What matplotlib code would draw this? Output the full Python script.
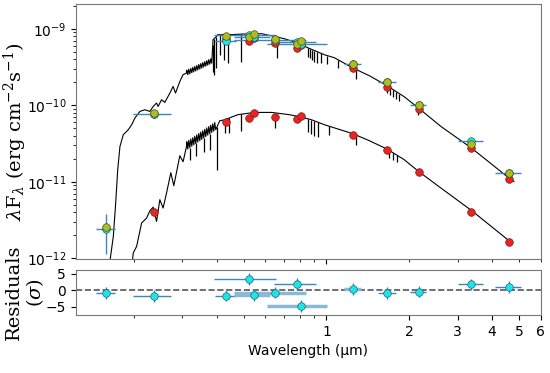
import numpy as np
import matplotlib
matplotlib.use('Agg')
import matplotlib.pyplot as plt
from matplotlib.ticker import NullFormatter, ScalarFormatter

# photometry (wavelength in micron, flux in erg/cm2/s)
wave = [0.158, 0.236, 0.431, 0.522, 0.544, 0.653, 0.782, 0.805, 1.247, 1.659, 2.16, 3.36, 4.60]
wave_err = [0.013, 0.037, 0.037, 0.133, 0.081, 0.19, 0.138, 0.196, 0.085, 0.124, 0.14, 0.35, 0.5]
obs = [2.43e-12, 7.6e-11, 6.9e-10, 8.35e-10, 7.7e-10, 7.1e-10, 6.75e-10, 6.24e-10,
       3.5e-10, 2.0e-10, 1.0e-10, 3.37e-11, 1.31e-11]
obs_err = [1.3e-12, 5e-12, 6.4e-11, 1.6e-11, 2.6e-11, 3e-11, 2e-11, 1.4e-11,
           1e-11, 6e-12, 3e-12, 1.5e-12, 5e-13]
model_tot = [2.58e-12, 7.98e-11, 7.93e-10, 7.8e-10, 8.6e-10, 7.33e-10, 6.37e-10, 6.9e-10,
             3.49e-10, 2.03e-10, 1.02e-10, 3.14e-11, 1.30e-11]
model_a = [np.nan, 7.6e-11, 7.3e-10, 6.83e-10, 7.6e-10, 6.5e-10, 5.6e-10, 6.1e-10,
           3.03e-10, 1.75e-10, 8.9e-11, 2.72e-11, 1.10e-11]
model_b = [np.nan, 4.06e-12, 6.03e-11, 6.8e-11, 7.8e-11, 6.97e-11, 6.67e-11, 7.18e-11,
           4.11e-11, 2.62e-11, 1.32e-11, 4.06e-12, 1.64e-12]
resid = [-0.9, -1.8, -1.6, 3.5, -1.4, -0.7, 1.9, -4.9, 0.5, -0.9, -0.4, 1.8, 0.9]
resid_err = [1.8] * 13
faint_bar = [False, False, False, False, True, True, False, True, True, False, False, False, False]

# model spectra (log10 flux)
spec_a_wave = [0.1609, 0.1682, 0.1716, 0.1745, 0.1778, 0.1828, 0.1906, 0.1961, 0.2015, 0.2101,
               0.2191, 0.2284, 0.2348, 0.2415, 0.2447, 0.2518, 0.2588, 0.2699, 0.2774, 0.2830,
               0.2934, 0.3015, 0.3102,
               0.3110, 0.3136, 0.3162, 0.3189, 0.3216, 0.3243, 0.3270, 0.3297, 0.3325, 0.3353,
               0.3381, 0.3409, 0.3438, 0.3467, 0.3496, 0.3525, 0.3554, 0.3584, 0.3614, 0.3645,
               0.3675, 0.3706, 0.3737, 0.3769, 0.3800, 0.3832,
               0.3873, 0.3984, 0.4027,
               0.4453, 0.5260, 0.5813, 0.6304, 0.7046, 0.7850, 0.8553, 0.9835, 1.069, 1.249,
               1.432, 1.660, 1.917, 2.160, 2.604, 3.361, 4.603, 4.800]
spec_a_logf = [-12.22, -11.715, -11.275, -10.843, -10.539, -10.386, -10.320, -10.255, -10.167, -10.081,
               -10.059, -10.081, -10.016, -9.971, -10.016, -9.928, -9.963, -9.841, -9.754, -9.841,
               -9.689, -9.601, -9.579,
               -9.542, -9.601, -9.529, -9.590, -9.518, -9.576, -9.505, -9.563, -9.493, -9.552,
               -9.480, -9.539, -9.467, -9.527, -9.455, -9.514, -9.442, -9.501, -9.430, -9.489,
               -9.417, -9.476, -9.404, -9.464, -9.392, -9.451,
               -9.144, -9.101, -9.078,
               -9.078, -9.065, -9.065, -9.092, -9.131, -9.187, -9.248, -9.340, -9.379, -9.514,
               -9.614, -9.745, -9.889, -10.037, -10.277, -10.559, -10.952, -10.996]
spec_b_wave = [0.1950, 0.1987, 0.2044, 0.2131, 0.2222, 0.2284, 0.2348, 0.2415, 0.2482, 0.2551,
               0.2625, 0.2721, 0.2790, 0.2934, 0.3015, 0.3102,
               0.3110, 0.3136, 0.3162, 0.3189, 0.3216, 0.3243, 0.3270, 0.3297, 0.3325, 0.3353,
               0.3381, 0.3409, 0.3438, 0.3467, 0.3496, 0.3525, 0.3554, 0.3584, 0.3614, 0.3645,
               0.3675, 0.3706, 0.3737, 0.3769, 0.3800, 0.3832, 0.3864, 0.3896, 0.3929, 0.3961,
               0.4096, 0.4270, 0.4760, 0.5484, 0.6320, 0.7344, 0.7983, 0.8825, 0.9835,
               1.249, 1.432, 1.660, 1.917, 2.160, 2.604, 3.361, 4.603, 4.693]
spec_b_logf = [-12.22, -11.932, -11.846, -11.540, -11.475, -11.379, -11.333, -11.519, -11.235, -11.344,
               -11.148, -10.882, -11.052, -10.660, -10.739, -10.542,
               -10.477, -10.573, -10.459, -10.555, -10.441, -10.537, -10.424, -10.519, -10.405, -10.501,
               -10.387, -10.482, -10.369, -10.464, -10.350, -10.447, -10.333, -10.429, -10.315, -10.410,
               -10.297, -10.392, -10.279, -10.374, -10.260, -10.356, -10.243, -10.339, -10.225, -10.320,
               -10.203, -10.190, -10.124, -10.094, -10.094, -10.124, -10.150, -10.190, -10.255,
               -10.373, -10.464, -10.573, -10.712, -10.865, -11.082, -11.375, -11.771, -11.793]

# absorption lines (wavelength, log10 flux at line bottom)
lines_a_wave = [0.3864, 0.3913, 0.3961, 0.4096, 0.4233, 0.4388, 0.4909, 0.6627, 0.8606, 0.8750,
                0.8898, 0.9048, 0.9277, 0.9591, 1.0084, 1.099, 1.284, 1.663, 1.706, 1.749,
                1.793, 1.838, 2.154]
lines_a_logf = [-9.562, -9.601, -9.510, -9.340, -9.405, -9.444, -9.431, -9.379, -9.366, -9.379,
                -9.405, -9.431, -9.444, -9.444, -9.458, -9.510, -9.654, -9.837, -9.863, -9.889,
                -9.915, -9.941, -10.124]
lines_b_wave = [0.3189, 0.3352, 0.3584, 0.3768, 0.4004, 0.4270, 0.4415, 0.4909, 0.6481, 0.8606,
                0.8825, 0.9048, 0.9355, 1.0253, 1.284, 1.692, 1.749, 1.808]
lines_b_logf = [-10.712, -10.660, -10.608, -10.582, -10.843, -10.359, -10.359, -10.333, -10.294, -10.346,
                -10.373, -10.399, -10.412, -10.386, -10.516, -10.686, -10.712, -10.739]

c_obs = '#1ee3ea'
c_tot = '#aebb22'
c_comp = '#ee2222'
c_bar = '#3a86c2'

fig = plt.figure(figsize=(5.5, 3.73), dpi=100)
ax = fig.add_axes([0.138, 0.306, 0.845, 0.683])
axr = fig.add_axes([0.138, 0.156, 0.845, 0.120])

# spectra
for sw, sf, lw_, lf in [(spec_a_wave, spec_a_logf, lines_a_wave, lines_a_logf),
                        (spec_b_wave, spec_b_logf, lines_b_wave, lines_b_logf)]:
    sw = np.array(sw)
    sf = np.array(sf)
    ax.plot(sw, 10**sf, color='k', lw=0.8, zorder=2)
    top = np.interp(np.log10(lw_), np.log10(sw), sf)
    ax.vlines(lw_, 10**np.array(lf), 10**top, color='k', lw=0.9, zorder=2)

ax.errorbar(wave, obs, xerr=wave_err, yerr=obs_err, fmt='none', ecolor=c_bar, elinewidth=1, zorder=3)
ax.scatter(wave, model_a, s=30, color=c_comp, edgecolors='#662222', linewidths=0.5, zorder=4)
ax.scatter(wave, model_b, s=30, color=c_comp, edgecolors='#662222', linewidths=0.5, zorder=4)
ax.scatter(wave, obs, s=30, color=c_obs, edgecolors='#226666', linewidths=0.5, zorder=5)
ax.scatter(wave, model_tot, s=30, color=c_tot, edgecolors='#445511', linewidths=0.5, zorder=6)

ax.set_xscale('log')
ax.set_yscale('log')
ax.set_xlim(0.123, 6.0)
ax.set_ylim(0.98e-12, 2.1e-9)
ax.xaxis.set_major_formatter(NullFormatter())
ax.xaxis.set_minor_formatter(NullFormatter())
ax.tick_params(labelsize=10)
ax.set_ylabel(r'$\lambda$F$_\lambda$ (erg cm$^{-2}$s$^{-1}$)', fontsize=14,
              family='DejaVu Serif', math_fontfamily='dejavuserif')
ax.yaxis.set_label_coords(-0.1, 0.5)

# residuals
for i in range(len(wave)):
    if faint_bar[i]:
        axr.errorbar(wave[i], resid[i], xerr=wave_err[i], fmt='none', ecolor='#8ab8d8',
                     elinewidth=2.5, zorder=2)
        axr.errorbar(wave[i], resid[i], yerr=resid_err[i], fmt='none', ecolor=c_bar,
                     elinewidth=1, zorder=2)
    else:
        axr.errorbar(wave[i], resid[i], xerr=wave_err[i], yerr=resid_err[i], fmt='none',
                     ecolor=c_bar, elinewidth=1, zorder=2)
axr.scatter(wave, resid, s=30, color=c_obs, edgecolors='#226666', linewidths=0.5, zorder=3)
axr.axhline(0, color='#555555', ls='--', lw=1.2, zorder=1)
axr.set_xscale('log')
axr.set_xlim(0.123, 6.0)
axr.set_ylim(-7.5, 6.2)
axr.set_yticks([-5, 0, 5])
axr.set_xticks([1, 2, 3, 4, 5, 6])
axr.xaxis.set_major_formatter(ScalarFormatter())
axr.xaxis.set_minor_formatter(NullFormatter())
axr.tick_params(labelsize=10)
axr.set_xlabel('Wavelength (µm)', fontsize=10)
axr.set_ylabel('Residuals\n' + r'($\sigma$)', fontsize=14, family='DejaVu Serif',
               math_fontfamily='dejavuserif', linespacing=1.1)
axr.yaxis.set_label_coords(-0.064, 0.5)

for a in (ax, axr):
    for s in a.spines.values():
        s.set_color('#777777')

fig.savefig('out.png', dpi=100)
